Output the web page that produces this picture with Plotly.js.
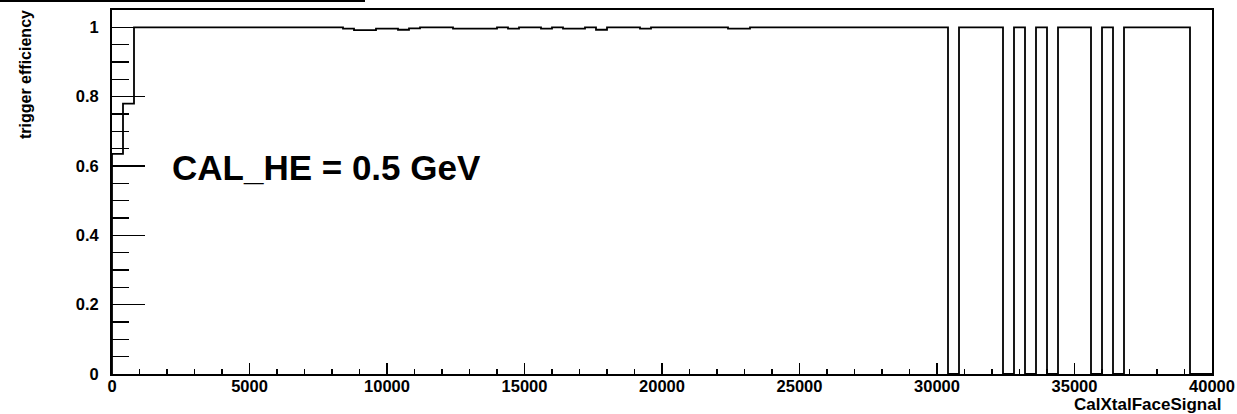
<!DOCTYPE html>
<html>
<head>
<meta charset="utf-8">
<script src="https://cdn.plot.ly/plotly-3.0.1.min.js"></script>
<style>html,body{margin:0;padding:0;background:#fff;}#chart{width:1237px;height:414px;}</style>
</head>
<body>
<div id="chart"></div>
<script>
// Histogram: 100 bins of width 400 from 0 to 40000
const binLow = 0;
const binWidth = 400;
const nBins = 100;
const efficiency = [
  0.635, 0.78, 1, 1, 1, 1, 1, 1, 1, 1,
  1, 1, 1, 1, 1, 1, 1, 1, 1, 1,
  1, 0.996, 0.992, 0.992, 0.996, 0.996, 0.993, 0.997, 1, 1,
  1, 0.996, 0.996, 0.996, 0.996, 1, 0.996, 1, 1, 0.996,
  1, 0.996, 0.996, 1, 0.993, 1, 1, 1, 0.996, 1,
  1, 1, 1, 1, 1, 1, 0.996, 0.996, 1, 1,
  1, 1, 1, 1, 1, 1, 1, 1, 1, 1,
  1, 1, 1, 1, 1, 1, 0, 1, 1, 1,
  1, 0, 1, 0, 1, 0, 1, 1, 1, 0,
  1, 0, 1, 1, 1, 1, 1, 1, 0, 0
];
const xTitle = "CalXtalFaceSignal";
const yTitle = "trigger efficiency";
const label = "CAL_HE = 0.5 GeV";
const xTickVals = [0, 5000, 10000, 15000, 20000, 25000, 30000, 35000, 40000];
const yTickVals = [0, 0.2, 0.4, 0.6, 0.8, 1];

// build step outline from bins
const xs = [binLow];
const ys = [0];
for (let i = 0; i < nBins; i++) {
  xs.push(binLow + i * binWidth);
  ys.push(efficiency[i]);
}
xs.push(binLow + nBins * binWidth);
ys.push(efficiency[nBins - 1]);

const fam = "Liberation Sans, Arial, sans-serif";
const tickFont = {family: fam, size: 16.5, color: "#000", weight: "bold"};
const xTitleFont = {family: fam, size: 17, color: "#000", weight: "bold"};
const yTitleFont = {family: fam, size: 16, color: "#000", weight: "bold"};

const trace = {
  x: xs, y: ys, type: "scatter", mode: "lines",
  line: {shape: "hv", color: "#000", width: 1.8},
  hoverinfo: "skip"
};

const W = 1237, H = 414;
const L = 112, R = 25, T = 10, B = 40;
const pw = W - L - R, ph = H - T - B;
const px = v => (v - L) / pw;
const py = v => (H - B - v) / ph;

const layout = {
  width: W, height: H,
  margin: {l: L, r: R, t: T, b: B, pad: 0},
  paper_bgcolor: "#fff", plot_bgcolor: "#fff",
  showlegend: false,
  font: tickFont,
  xaxis: {
    range: [0, 40000], tickmode: "array", tickvals: xTickVals,
    ticktext: xTickVals.map(String),
    ticks: "inside", ticklen: 11, tickwidth: 1.5, tickcolor: "#000",
    minor: {dtick: 1000, ticks: "inside", ticklen: 5, tickwidth: 1.5, tickcolor: "#000", showgrid: false},
    showline: true, linecolor: "#000", linewidth: 2, mirror: true,
    showgrid: false, zeroline: false,
    tickfont: tickFont, ticklabelstandoff: -4
  },
  yaxis: {
    range: [0, 1.05], tickmode: "array", tickvals: yTickVals,
    ticktext: ["0", "0.2", "0.4", "0.6", "0.8", "1"],
    ticks: "inside", ticklen: 33, tickwidth: 1.5, tickcolor: "#000",
    minor: {dtick: 0.05, ticks: "inside", ticklen: 17, tickwidth: 1.5, tickcolor: "#000", showgrid: false},
    showline: true, linecolor: "#000", linewidth: 2, mirror: true,
    showgrid: false, zeroline: false,
    tickfont: tickFont, ticklabelstandoff: 8
  },
  annotations: [
    {text: label, xref: "paper", yref: "paper", x: px(170), y: py(167),
     xanchor: "left", yanchor: "middle", showarrow: false,
     font: {family: fam, size: 35, color: "#000", weight: "bold"}},
    {text: xTitle, xref: "paper", yref: "paper", x: px(1222), y: py(415),
     xanchor: "right", yanchor: "bottom", showarrow: false, borderpad: 0, font: xTitleFont},
    {text: yTitle, xref: "paper", yref: "paper", x: px(25), y: py(75),
     xanchor: "center", yanchor: "middle", textangle: -90, showarrow: false, font: yTitleFont}
  ],
  shapes: [
    {type: "line", xref: "paper", yref: "paper", x0: px(0), x1: px(365), y0: py(1), y1: py(1),
     line: {color: "#000", width: 2}}
  ]
};

Plotly.newPlot("chart", [trace], layout, {staticPlot: true, displayModeBar: false});
</script>
</body>
</html>
